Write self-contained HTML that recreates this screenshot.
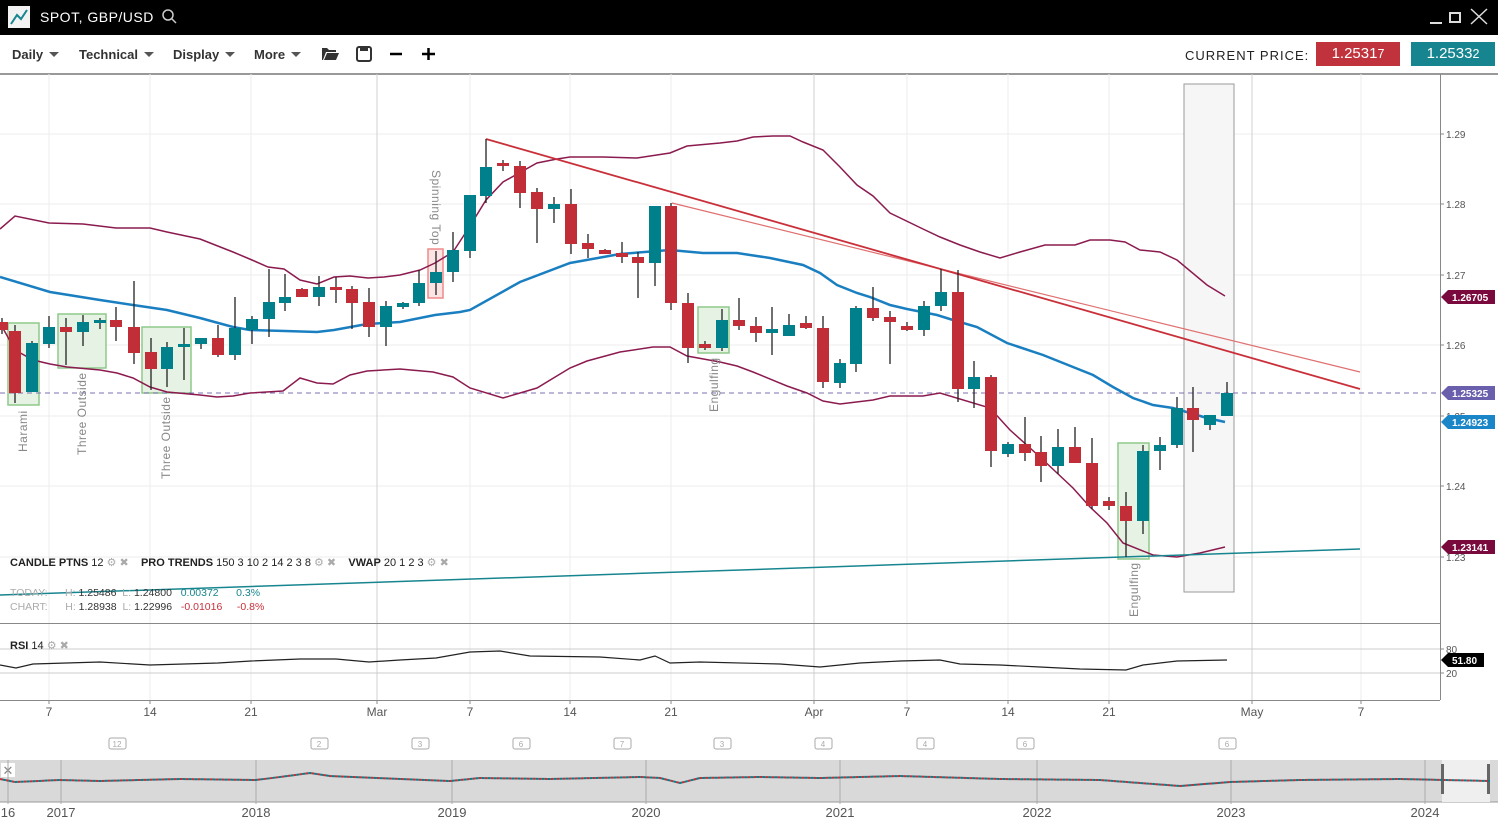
<!DOCTYPE html>
<html><head><meta charset="utf-8">
<style>
body{margin:0;width:1498px;height:826px;overflow:hidden;background:#fff;font-family:"Liberation Sans",sans-serif;position:relative}
.top{position:absolute;left:0;top:0;width:1498px;height:35px;background:#000}
.tb{position:absolute;top:35px;left:0;width:1498px;height:38px;background:#fff;border-bottom:2px solid #999}
.m{position:absolute;top:47px;font-size:13px;font-weight:bold;color:#333}
.car{display:inline-block;width:0;height:0;border-left:5px solid transparent;border-right:5px solid transparent;border-top:5px solid #555;margin-left:6px;vertical-align:2px}
svg{position:absolute;left:0;top:0}
</style></head><body>
<div class="top">
 <div style="position:absolute;left:8px;top:6px;width:22px;height:22px;background:#f2f2f2"></div>
 <svg width="40" height="35" style="left:0;top:0"><polyline points="11,24 17,15 21,19 27,10" fill="none" stroke="#17858f" stroke-width="2"/></svg>
 <div style="position:absolute;left:40px;top:9px;color:#fff;font-size:14px;letter-spacing:0.5px">SPOT, GBP/USD</div>
 <svg width="20" height="35" style="left:160px;top:0"><circle cx="8" cy="15" r="5" fill="none" stroke="#ccc" stroke-width="1.5"/><line x1="12" y1="19" x2="16" y2="23" stroke="#ccc" stroke-width="1.5"/></svg>
 <svg width="70" height="35" style="left:1428px;top:0"><line x1="2" y1="23" x2="14" y2="23" stroke="#ddd" stroke-width="2"/><rect x="22" y="13" width="10" height="9" fill="none" stroke="#ddd" stroke-width="2"/><line x1="43" y1="9" x2="59" y2="24" stroke="#ddd" stroke-width="1.5"/><line x1="59" y1="9" x2="43" y2="24" stroke="#ddd" stroke-width="1.5"/></svg>
</div>
<div class="tb"></div>
<div class="m" style="left:12px">Daily<span class="car"></span></div>
<div class="m" style="left:79px">Technical<span class="car"></span></div>
<div class="m" style="left:173px">Display<span class="car"></span></div>
<div class="m" style="left:254px">More<span class="car"></span></div>
<svg width="120" height="30" style="left:318px;top:40px"><path d="M4,20 L4,8 L9,8 L11,10 L18,10 L18,12 L8,12 L5,20 Z M6,20 L9,13 L21,13 L18,20Z" fill="#333"/><rect x="39" y="7" width="14" height="14" rx="2" fill="none" stroke="#333" stroke-width="2"/><rect x="42" y="7" width="8" height="4" fill="#333"/><line x1="72" y1="14" x2="84" y2="14" stroke="#000" stroke-width="2.5"/><line x1="104" y1="14" x2="117" y2="14" stroke="#000" stroke-width="2.5"/><line x1="110.5" y1="8" x2="110.5" y2="20" stroke="#000" stroke-width="2.5"/></svg>
<div style="position:absolute;left:1185px;top:48px;font-size:13px;letter-spacing:1px;color:#222">CURRENT PRICE:</div>
<div style="position:absolute;left:1316px;top:42px;width:84px;height:24px;background:#c0323c;color:#fff;font-size:15px;line-height:23px;text-align:center">1.2531<small>7</small></div>
<div style="position:absolute;left:1411px;top:42px;width:84px;height:24px;background:#17858f;color:#fff;font-size:15px;line-height:23px;text-align:center">1.2533<small>2</small></div>

<svg id="c" width="1498" height="826"></svg>

<div style="position:absolute;left:10px;top:556px;font-size:11px;color:#222"><b>CANDLE PTNS</b> 12 <span style="color:#aaa">⚙ ✖</span> &nbsp;&nbsp;&nbsp;<b>PRO TRENDS</b> 150 3 10 2 14 2 3 8 <span style="color:#aaa">⚙ ✖</span> &nbsp;&nbsp;&nbsp;<b>VWAP</b> 20 1 2 3 <span style="color:#aaa">⚙ ✖</span></div>
<div style="position:absolute;left:10px;top:586px;font-size:10.5px;color:#aaa;line-height:14px;white-space:pre">TODAY:      H: <span style="color:#333">1.25486</span>  L: <span style="color:#333">1.24800</span>   <span style="color:#17858f">0.00372      0.3%</span>
CHART:      H: <span style="color:#333">1.28938</span>  L: <span style="color:#333">1.22996</span>   <span style="color:#c9303a">-0.01016     -0.8%</span></div>
<div style="position:absolute;left:10px;top:639px;font-size:11px;color:#222"><b>RSI</b> 14 <span style="color:#aaa">⚙ ✖</span></div>

<script>
const S=document.getElementById('c');let h='';
const P=(pts,c,w,extra)=>{h+=`<polyline points="${pts}" fill="none" stroke="${c}" stroke-width="${w}" ${extra||''}/>`};
[134,204,275,345,416,486,557].forEach(y=>h+=`<line x1="0" y1="${y}" x2="1440" y2="${y}" stroke="#ececec"/>`);
[49,150,251,470,570,671,907,1008,1109,1361].forEach(x=>h+=`<line x1="${x}" y1="74" x2="${x}" y2="700" stroke="#ececec"/>`);
[377,814,1252].forEach(x=>h+=`<line x1="${x}" y1="74" x2="${x}" y2="700" stroke="#d0d0d0"/>`);
h+=`<rect x="1184" y="84" width="50" height="508" fill="#f6f6f6" stroke="#999"/>`;
[[8,323,31,82],[58,314,48,54],[142,327,49,66],[698,307,31,46],[1118,443,31,116]].forEach(b=>h+=`<rect x="${b[0]}" y="${b[1]}" width="${b[2]}" height="${b[3]}" fill="#e6f2e3" stroke="#8fc98a" stroke-width="1.5"/>`);
h+=`<rect x="428" y="249" width="15" height="49" fill="#fde4e4" stroke="#f08a8a" stroke-width="1.5"/>`;
h+=`<line x1="0" y1="393" x2="1440" y2="393" stroke="#7b6fb0" stroke-dasharray="5,4"/>`;
P("0,229 15,216 49,223 83,224 116,228 150,228 167,232 200,239 233,252 252,260 268,267 284,269 300,280 317,284 334,277 350,276 368,278 384,277 400,275 420,270 435,263 453,252 470,226 486,200 503,182 537,163 557,159 570,157 603,157 637,158 670,153 687,146 720,143 737,141 753,137 773,136 790,136 803,142 823,150 840,167 857,185 873,196 890,213 923,229 940,237 960,245 980,252 1000,258 1020,252 1045,245 1075,245 1090,240 1110,240 1125,242 1140,250 1160,252 1177,260 1207,285 1225,296","#8b1a4f",1.5);
P("0,323 15,350 33,360 50,364 67,367 100,370 117,373 133,378 150,387 167,392 200,395 217,397 233,396 250,393 283,391 300,378 317,383 333,384 350,375 367,371 400,369 433,372 453,377 470,388 503,398 537,388 570,368 587,361 620,352 653,347 670,347 687,356 720,362 737,366 753,372 787,386 807,393 823,401 840,404 873,400 890,396 923,396 940,393 990,408 1010,430 1040,457 1073,488 1090,507 1107,523 1123,543 1153,555 1177,557 1200,553 1225,547","#8b1a4f",1.5);
P("0,277 50,292 100,300 133,305 167,310 200,318 233,327 250,330 285,331 317,332 334,330 367,324 400,322 435,315 460,312 470,310 520,282 570,263 620,254 670,250 703,253 737,253 770,258 803,265 820,273 837,285 857,293 870,297 890,305 907,309 937,315 953,320 977,327 1007,343 1043,355 1073,367 1093,375 1113,387 1133,398 1153,405 1173,408 1190,413 1207,418 1225,422","#1a7fc1",2.5);
P("0,595 1360,549","#17858f",1.5);
P("672,203 1360,372","#e07070",1.2);
P("486,139 1360,389","#c9303a",1.8);
const C=[[2,322,330,318,334],[15,331,393,325,403],[32,392,343,341,392],[49,344,327,316,348],[66,327,332,318,365],[83,332,322,315,346],[100,323,320,318,329],[116,320,327,307,341],[134,327,353,281,364],[151,352,369,338,390],[167,369,347,342,387],[184,347,344,328,380],[201,344,338,338,349],[218,338,355,325,357],[235,355,328,297,360],[252,330,319,316,344],[269,319,302,269,337],[285,303,297,274,311],[302,289,297,288,297],[319,297,287,276,306],[336,287,290,277,303],[352,289,303,286,329],[369,302,327,288,337],[386,327,306,301,346],[403,307,303,302,309],[419,303,283,270,306],[436,283,272,251,295],[453,272,250,232,282],[470,251,195,195,258],[486,196,167,139,203],[503,163,166,160,171],[520,166,193,161,208],[537,192,209,188,243],[554,209,204,197,223],[571,204,244,189,254],[588,243,249,234,258],[605,250,254,249,254],[622,253,257,242,263],[638,257,263,252,298],[655,263,206,206,286],[671,206,303,203,310],[688,303,348,293,363],[705,344,348,341,350],[722,348,320,309,351],[739,320,326,298,330],[756,326,333,317,342],[772,333,329,307,355],[789,336,325,314,336],[806,323,328,316,329],[823,328,382,316,388],[840,383,363,359,388],[856,364,308,306,372],[873,308,318,287,321],[890,317,322,311,364],[907,326,330,322,331],[924,330,306,301,336],[941,306,292,269,311],[958,292,389,270,402],[974,389,377,361,408],[991,377,451,375,467],[1008,454,444,442,457],[1025,444,453,417,461],[1041,452,466,436,482],[1058,466,447,429,474],[1075,447,463,427,463],[1092,463,506,438,509],[1109,501,506,497,510],[1126,506,521,492,557],[1143,521,451,445,534],[1160,451,445,437,470],[1177,445,408,397,448],[1193,408,420,387,452],[1210,425,415,415,430],[1227,416,393,382,416]];
C.forEach(c=>{const[x,o,cl,hi,lo]=c;const up=cl<o;const col=up?'#00808a':'#c22e38';const t=Math.min(o,cl),b=Math.max(o,cl,t+3);
h+=`<line x1="${x}" y1="${hi}" x2="${x}" y2="${lo}" stroke="#222" stroke-width="1.3"/><rect x="${x-6}" y="${t}" width="12" height="${b-t}" fill="${col}"/>`;});
const R=(x,y,t,a)=>h+=`<text transform="translate(${x},${y}) rotate(${a})" font-size="12" fill="#888" font-family="Liberation Sans,sans-serif" letter-spacing="0.5">${t}</text>`;
R(27,452,"Harami",-90);R(86,455,"Three Outside",-90);R(170,479,"Three Outside",-90);R(718,412,"Engulfing",-90);R(1138,617,"Engulfing",-90);R(432,170,"Spinning Top",90);
h+=`<line x1="0" y1="623.5" x2="1440" y2="623.5" stroke="#888"/><line x1="0" y1="700.5" x2="1440" y2="700.5" stroke="#888"/><line x1="1440.5" y1="74" x2="1440.5" y2="700" stroke="#888"/>`;
h+=`<line x1="0" y1="649" x2="1440" y2="649" stroke="#ccc"/><line x1="0" y1="673" x2="1440" y2="673" stroke="#ccc"/>`;
P("0,665 16,668 33,664 100,662 150,665 218,663 251,661 300,659 336,659 369,662 400,660 436,658 470,652 500,651 530,656 600,657 640,660 655,656 670,663 700,662 780,664 820,667 860,663 900,661 940,660 960,664 1000,665 1040,667 1080,669 1126,670 1143,665 1177,661 1227,660","#222",1.2);
[[134,"1.29"],[204,"1.28"],[275,"1.27"],[345,"1.26"],[416,"1.25"],[486,"1.24"],[557,"1.23"],[649,"80"],[673,"20"]].forEach(t=>h+=`<line x1="1440" y1="${t[0]}" x2="1444" y2="${t[0]}" stroke="#888"/><text x="1446" y="${t[0]+4}" font-size="10" fill="#555">${t[1]}</text>`);
const Tg=(y,t,c,w)=>h+=`<path d="M1441,${y} L1448,${y-7} L${1448+w},${y-7} L${1448+w},${y+7} L1448,${y+7}Z" fill="${c}"/><text x="${1452}" y="${y+4}" font-size="10" font-weight="bold" fill="#fff">${t}</text>`;
Tg(297,"1.26705","#7a0a3e",47);Tg(393,"1.25325","#6a5fad",47);Tg(422,"1.24923","#1a86c7",47);Tg(547,"1.23141","#7a0a3e",47);Tg(660,"51.80","#000",36);
[[49,"7"],[150,"14"],[251,"21"],[377,"Mar"],[470,"7"],[570,"14"],[671,"21"],[814,"Apr"],[907,"7"],[1008,"14"],[1109,"21"],[1252,"May"],[1361,"7"]].forEach(t=>h+=`<line x1="${t[0]}" y1="700" x2="${t[0]}" y2="704" stroke="#888"/><text x="${t[0]}" y="716" font-size="12" fill="#555" text-anchor="middle">${t[1]}</text>`);
[[117,"12"],[319,"2"],[420,"3"],[521,"6"],[622,"7"],[722,"3"],[823,"4"],[925,"4"],[1025,"6"],[1227,"6"]].forEach(t=>h+=`<rect x="${t[0]-8}" y="738" width="17" height="11" rx="2" fill="none" stroke="#aaa"/><text x="${t[0]}" y="747" font-size="8" fill="#aaa" text-anchor="middle">${t[1]}</text>`);
h+=`<rect x="0" y="760" width="1498" height="42" fill="#d9d9d9"/><line x1="0" y1="802" x2="1498" y2="802" stroke="#999"/>`;
h+=`<rect x="1442" y="760" width="48" height="42" fill="#efefef"/><rect x="1441" y="764" width="3" height="30" fill="#666"/><rect x="1487" y="764" width="3" height="30" fill="#666"/>`;
h+=`<rect x="1" y="763" width="14" height="14" fill="#fff"/><text x="8" y="775" font-size="13" fill="#888" text-anchor="middle">✕</text>`;
[[8,"16"],[61,"2017"],[256,"2018"],[452,"2019"],[646,"2020"],[840,"2021"],[1037,"2022"],[1231,"2023"],[1425,"2024"]].forEach(t=>h+=`<line x1="${t[0]}" y1="760" x2="${t[0]}" y2="804" stroke="#aaa"/><text x="${t[0]}" y="817" font-size="13" fill="#555" text-anchor="middle">${t[1]}</text>`);
const nv=[[0,779],[15,782],[60,780],[100,781],[180,779],[256,780],[280,777],[310,773],[330,776],[400,779],[450,781],[480,778],[550,779],[640,777],[660,778],[680,783],[700,778],[760,777],[820,778],[900,776],[1000,779],[1100,780],[1180,786],[1230,782],[1300,780],[1400,779],[1490,781]];
let pts=nv.map(p=>p.join(',')).join(' ');P(pts,"#c22e38",2,'stroke-dasharray="3,3"');P(pts,"#00808a",2,'stroke-dasharray="3,3" stroke-dashoffset="3"');
S.innerHTML=h;
</script>
</body></html>
